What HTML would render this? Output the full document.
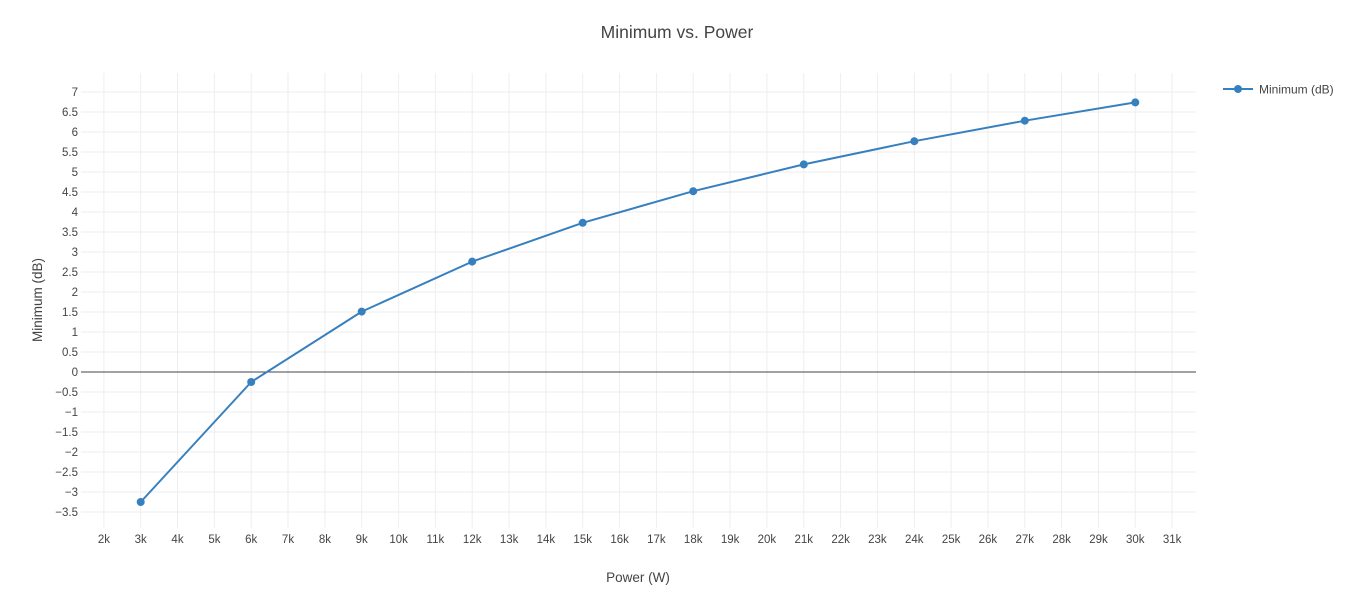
<!DOCTYPE html>
<html><head><meta charset="utf-8"><style>
html,body{margin:0;padding:0;background:#fff;}
svg{display:block;}
text{font-family:"Liberation Sans",sans-serif;fill:#444;}
</style></head><body>
<svg width="1355" height="610" viewBox="0 0 1355 610" xmlns="http://www.w3.org/2000/svg">
<rect width="1355" height="610" fill="#fff"/>
<g stroke="#eeeeee" stroke-width="1">
<line x1="103.9" y1="73" x2="103.9" y2="528"/>
<line x1="140.7" y1="73" x2="140.7" y2="528"/>
<line x1="177.5" y1="73" x2="177.5" y2="528"/>
<line x1="214.4" y1="73" x2="214.4" y2="528"/>
<line x1="251.2" y1="73" x2="251.2" y2="528"/>
<line x1="288.0" y1="73" x2="288.0" y2="528"/>
<line x1="324.9" y1="73" x2="324.9" y2="528"/>
<line x1="361.7" y1="73" x2="361.7" y2="528"/>
<line x1="398.6" y1="73" x2="398.6" y2="528"/>
<line x1="435.4" y1="73" x2="435.4" y2="528"/>
<line x1="472.2" y1="73" x2="472.2" y2="528"/>
<line x1="509.1" y1="73" x2="509.1" y2="528"/>
<line x1="545.9" y1="73" x2="545.9" y2="528"/>
<line x1="582.7" y1="73" x2="582.7" y2="528"/>
<line x1="619.6" y1="73" x2="619.6" y2="528"/>
<line x1="656.4" y1="73" x2="656.4" y2="528"/>
<line x1="693.2" y1="73" x2="693.2" y2="528"/>
<line x1="730.1" y1="73" x2="730.1" y2="528"/>
<line x1="766.9" y1="73" x2="766.9" y2="528"/>
<line x1="803.8" y1="73" x2="803.8" y2="528"/>
<line x1="840.6" y1="73" x2="840.6" y2="528"/>
<line x1="877.4" y1="73" x2="877.4" y2="528"/>
<line x1="914.3" y1="73" x2="914.3" y2="528"/>
<line x1="951.1" y1="73" x2="951.1" y2="528"/>
<line x1="987.9" y1="73" x2="987.9" y2="528"/>
<line x1="1024.8" y1="73" x2="1024.8" y2="528"/>
<line x1="1061.6" y1="73" x2="1061.6" y2="528"/>
<line x1="1098.5" y1="73" x2="1098.5" y2="528"/>
<line x1="1135.3" y1="73" x2="1135.3" y2="528"/>
<line x1="1172.1" y1="73" x2="1172.1" y2="528"/>
<line x1="81" y1="92" x2="1196" y2="92"/>
<line x1="81" y1="112" x2="1196" y2="112"/>
<line x1="81" y1="132" x2="1196" y2="132"/>
<line x1="81" y1="152" x2="1196" y2="152"/>
<line x1="81" y1="172" x2="1196" y2="172"/>
<line x1="81" y1="192" x2="1196" y2="192"/>
<line x1="81" y1="212" x2="1196" y2="212"/>
<line x1="81" y1="232" x2="1196" y2="232"/>
<line x1="81" y1="252" x2="1196" y2="252"/>
<line x1="81" y1="272" x2="1196" y2="272"/>
<line x1="81" y1="292" x2="1196" y2="292"/>
<line x1="81" y1="312" x2="1196" y2="312"/>
<line x1="81" y1="332" x2="1196" y2="332"/>
<line x1="81" y1="352" x2="1196" y2="352"/>
<line x1="81" y1="392" x2="1196" y2="392"/>
<line x1="81" y1="412" x2="1196" y2="412"/>
<line x1="81" y1="432" x2="1196" y2="432"/>
<line x1="81" y1="452" x2="1196" y2="452"/>
<line x1="81" y1="472" x2="1196" y2="472"/>
<line x1="81" y1="492" x2="1196" y2="492"/>
<line x1="81" y1="512" x2="1196" y2="512"/>
</g>
<line x1="81" y1="372" x2="1196" y2="372" stroke="#444" stroke-width="1"/>
<g font-size="11.5" text-anchor="end">
<text x="78" y="96">7</text>
<text x="78" y="116">6.5</text>
<text x="78" y="136">6</text>
<text x="78" y="156">5.5</text>
<text x="78" y="176">5</text>
<text x="78" y="196">4.5</text>
<text x="78" y="216">4</text>
<text x="78" y="236">3.5</text>
<text x="78" y="256">3</text>
<text x="78" y="276">2.5</text>
<text x="78" y="296">2</text>
<text x="78" y="316">1.5</text>
<text x="78" y="336">1</text>
<text x="78" y="356">0.5</text>
<text x="78" y="376">0</text>
<text x="78" y="396">−0.5</text>
<text x="78" y="416">−1</text>
<text x="78" y="436">−1.5</text>
<text x="78" y="456">−2</text>
<text x="78" y="476">−2.5</text>
<text x="78" y="496">−3</text>
<text x="78" y="516">−3.5</text>
</g>
<g font-size="11.5" text-anchor="middle">
<text x="103.9" y="543">2k</text>
<text x="140.7" y="543">3k</text>
<text x="177.5" y="543">4k</text>
<text x="214.4" y="543">5k</text>
<text x="251.2" y="543">6k</text>
<text x="288.0" y="543">7k</text>
<text x="324.9" y="543">8k</text>
<text x="361.7" y="543">9k</text>
<text x="398.6" y="543">10k</text>
<text x="435.4" y="543">11k</text>
<text x="472.2" y="543">12k</text>
<text x="509.1" y="543">13k</text>
<text x="545.9" y="543">14k</text>
<text x="582.7" y="543">15k</text>
<text x="619.6" y="543">16k</text>
<text x="656.4" y="543">17k</text>
<text x="693.2" y="543">18k</text>
<text x="730.1" y="543">19k</text>
<text x="766.9" y="543">20k</text>
<text x="803.8" y="543">21k</text>
<text x="840.6" y="543">22k</text>
<text x="877.4" y="543">23k</text>
<text x="914.3" y="543">24k</text>
<text x="951.1" y="543">25k</text>
<text x="987.9" y="543">26k</text>
<text x="1024.8" y="543">27k</text>
<text x="1061.6" y="543">28k</text>
<text x="1098.5" y="543">29k</text>
<text x="1135.3" y="543">30k</text>
<text x="1172.1" y="543">31k</text>
</g>
<polyline fill="none" stroke="rgb(55,128,191)" stroke-width="2" stroke-linejoin="round" points="140.7,502 251.2,382 361.7,311.6 472.2,261.6 582.7,222.8 693.2,191.2 803.8,164.4 914.3,141.2 1024.8,120.7 1135.3,102.4"/>
<g fill="rgb(55,128,191)">
<circle cx="140.7" cy="502" r="4"/>
<circle cx="251.2" cy="382" r="4"/>
<circle cx="361.7" cy="311.6" r="4"/>
<circle cx="472.2" cy="261.6" r="4"/>
<circle cx="582.7" cy="222.8" r="4"/>
<circle cx="693.2" cy="191.2" r="4"/>
<circle cx="803.8" cy="164.4" r="4"/>
<circle cx="914.3" cy="141.2" r="4"/>
<circle cx="1024.8" cy="120.7" r="4"/>
<circle cx="1135.3" cy="102.4" r="4"/>
</g>
<text x="677" y="38" font-size="17.5" text-anchor="middle">Minimum vs. Power</text>
<text x="638" y="582" font-size="13.5" text-anchor="middle">Power (W)</text>
<text x="0" y="0" font-size="13.5" text-anchor="middle" transform="translate(42,300) rotate(-90)">Minimum (dB)</text>
<line x1="1223" y1="89" x2="1253" y2="89" stroke="rgb(55,128,191)" stroke-width="2"/>
<circle cx="1238" cy="89" r="4" fill="rgb(55,128,191)"/>
<text x="1259" y="93.5" font-size="12">Minimum (dB)</text>
</svg>
</body></html>
